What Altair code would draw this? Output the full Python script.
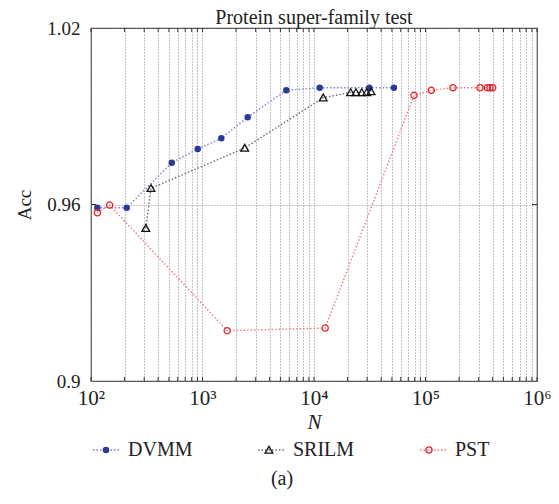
import altair as alt
import pandas as pd

FONT = "Liberation Serif"

series_names = ["DVMM", "SRILM", "PST"]

dvmm_n = [114, 209, 530, 906, 1475, 2543, 5650, 11250, 31300, 52100]
dvmm_acc = [0.9589, 0.9589, 0.9742, 0.9789, 0.9825, 0.9897, 0.9988, 0.9997, 0.9997, 0.9997]

srilm_n = [310, 345, 2390, 12100, 21300, 23800, 26800, 29700, 32500]
srilm_acc = [0.9519, 0.9655, 0.9792, 0.9963, 0.9981, 0.9981, 0.9981, 0.9981, 0.9984]

pst_n = [114, 147, 1667, 12600, 78900, 112800, 176500, 308600, 358500, 378600, 400600]
pst_acc = [0.9572, 0.9598, 0.9171, 0.9180, 0.9971, 0.9988, 0.9997, 0.9997, 0.9997, 0.9997, 0.9997]

y_ticks = [0.9, 0.96, 1.02]
y_inner_ticks = [0.96]
x_ticks = [m * 10 ** e for e in range(2, 6) for m in range(1, 10)] + [10 ** 6]
x_labels = {100: "10²", 1000: "10³", 10000: "10⁴", 100000: "10⁵", 1000000: "10⁶"}

line_colors = ["#7b80cf", "#6a6a6a", "#f07878"]
marker_stroke = ["#2b3a98", "#111111", "#e8232b"]
marker_fill = ["#2b3a98", "transparent", "transparent"]


def circle_path(r):
    return f"M{r},0A{r},{r},0,1,1,{-r},0A{r},{r},0,1,1,{r},0Z"


marker_shapes = [circle_path(0.2), "M0,-0.28L0.3,0.24L-0.3,0.24Z", circle_path(0.24)]

rows = []
for name, ns, accs in [("DVMM", dvmm_n, dvmm_acc), ("SRILM", srilm_n, srilm_acc), ("PST", pst_n, pst_acc)]:
    for i, (n, a) in enumerate(zip(ns, accs)):
        rows.append({"series": name, "N": n, "Acc": a, "idx": i})
df = pd.DataFrame(rows)
xt_df = pd.DataFrame({"N": x_ticks})
yt_df = pd.DataFrame({"Acc": y_inner_ticks})

label_expr = " : ".join(
    f"datum.value == {k} ? '{v}'" for k, v in x_labels.items()
) + " : ''"


def lookup_expr(values):
    pairs = ", ".join(f"'{s}': '{v}'" for s, v in zip(series_names, values))
    return "{" + pairs + "}[datum.value]"


x_enc = alt.X(
    "N:Q",
    scale=alt.Scale(type="log", domain=[100, 1000000], nice=False),
    axis=alt.Axis(
        values=x_ticks, labelExpr=label_expr, grid=True, gridDash=[1, 2],
        gridColor="#8a8a8a", gridWidth=1, ticks=False, domain=False,
        labelOverlap=False, labelFlush=False, labelFont=FONT, labelFontSize=21,
        labelColor="#222", labelPadding=6, title="N", titleFont=FONT,
        titleFontSize=21, titleFontStyle="italic", titleFontWeight="normal",
        titleColor="#222", titlePadding=3,
    ),
)
y_enc = alt.Y(
    "Acc:Q",
    scale=alt.Scale(domain=[0.9, 1.02], nice=False, zero=False),
    axis=alt.Axis(
        values=y_ticks, format=".2~f", grid=True, gridDash=[1, 2],
        gridColor="#8a8a8a", ticks=False, domain=False, labelFont=FONT,
        labelFontSize=19, labelColor="#222", labelPadding=11, title="Acc",
        titleFont=FONT, titleFontSize=19, titleFontWeight="normal",
        titleColor="#222", titlePadding=12,
    ),
)

common_legend = dict(
    title=None, orient="none", legendX=1, legendY=408, direction="horizontal",
    symbolSize=676, labelFont=FONT, labelFontSize=20, labelOffset=8,
    columnPadding=62, padding=0,
)

lines = alt.Chart(df).mark_line(strokeDash=[1.5, 2], strokeWidth=1.4).encode(
    x=x_enc, y=y_enc,
    color=alt.Color(
        "series:N",
        scale=alt.Scale(domain=series_names, range=line_colors),
        legend=alt.Legend(symbolType="stroke", symbolStrokeWidth=1.4,
                          symbolDash=[1.5, 2], labelColor="#222", **common_legend),
    ),
    order="idx:Q",
)

pt_legend = alt.Legend(
    symbolStrokeWidth=1.3, labelOpacity=0, labelColor="#222",
    symbolStrokeColor={"expr": lookup_expr(marker_stroke)},
    symbolFillColor={"expr": lookup_expr(marker_fill)},
    symbolOpacity=1,
    **common_legend,
)
points = alt.Chart(df).mark_point(size=676, strokeWidth=1.3, opacity=1).encode(
    x="N:Q", y="Acc:Q",
    shape=alt.Shape("series:N", sort=series_names, scale=alt.Scale(range=marker_shapes), legend=pt_legend),
    stroke=alt.Stroke("series:N", sort=series_names, scale=alt.Scale(range=marker_stroke), legend=None),
    fill=alt.Fill("series:N", sort=series_names, scale=alt.Scale(range=marker_fill), legend=None),
)

# short inward ticks on the frame
tick_style = dict(color="#333", strokeWidth=1)
bottom_ticks = alt.Chart(xt_df).mark_rule(**tick_style).encode(
    x="N:Q", y=alt.value(353), y2=alt.value(349))
top_ticks = alt.Chart(xt_df).mark_rule(**tick_style).encode(
    x="N:Q", y=alt.value(0), y2=alt.value(4))
left_ticks = alt.Chart(yt_df).mark_rule(**tick_style).encode(
    y="Acc:Q", x=alt.value(0), x2=alt.value(5))
right_ticks = alt.Chart(yt_df).mark_rule(**tick_style).encode(
    y="Acc:Q", x=alt.value(446), x2=alt.value(441))

caption = alt.Chart(pd.DataFrame({"t": ["(a)"]})).mark_text(
    font=FONT, fontSize=20, color="#222"
).encode(x=alt.value(191), y=alt.value(451), text="t:N")

chart = alt.layer(
    lines, points, bottom_ticks, top_ticks, left_ticks, right_ticks, caption
).properties(
    width=446, height=353,
    title=alt.TitleParams("Protein super-family test", font=FONT, fontSize=20,
                          fontWeight="normal", color="#222", anchor="middle",
                          offset=-9),
    padding={"left": 83, "top": 20, "right": 14, "bottom": 115},
    autosize=alt.AutoSizeParams(type="none"),
).configure_view(stroke="#444", strokeWidth=1.2)

chart.save("out.html", embed_options={"renderer": "svg", "actions": False})
